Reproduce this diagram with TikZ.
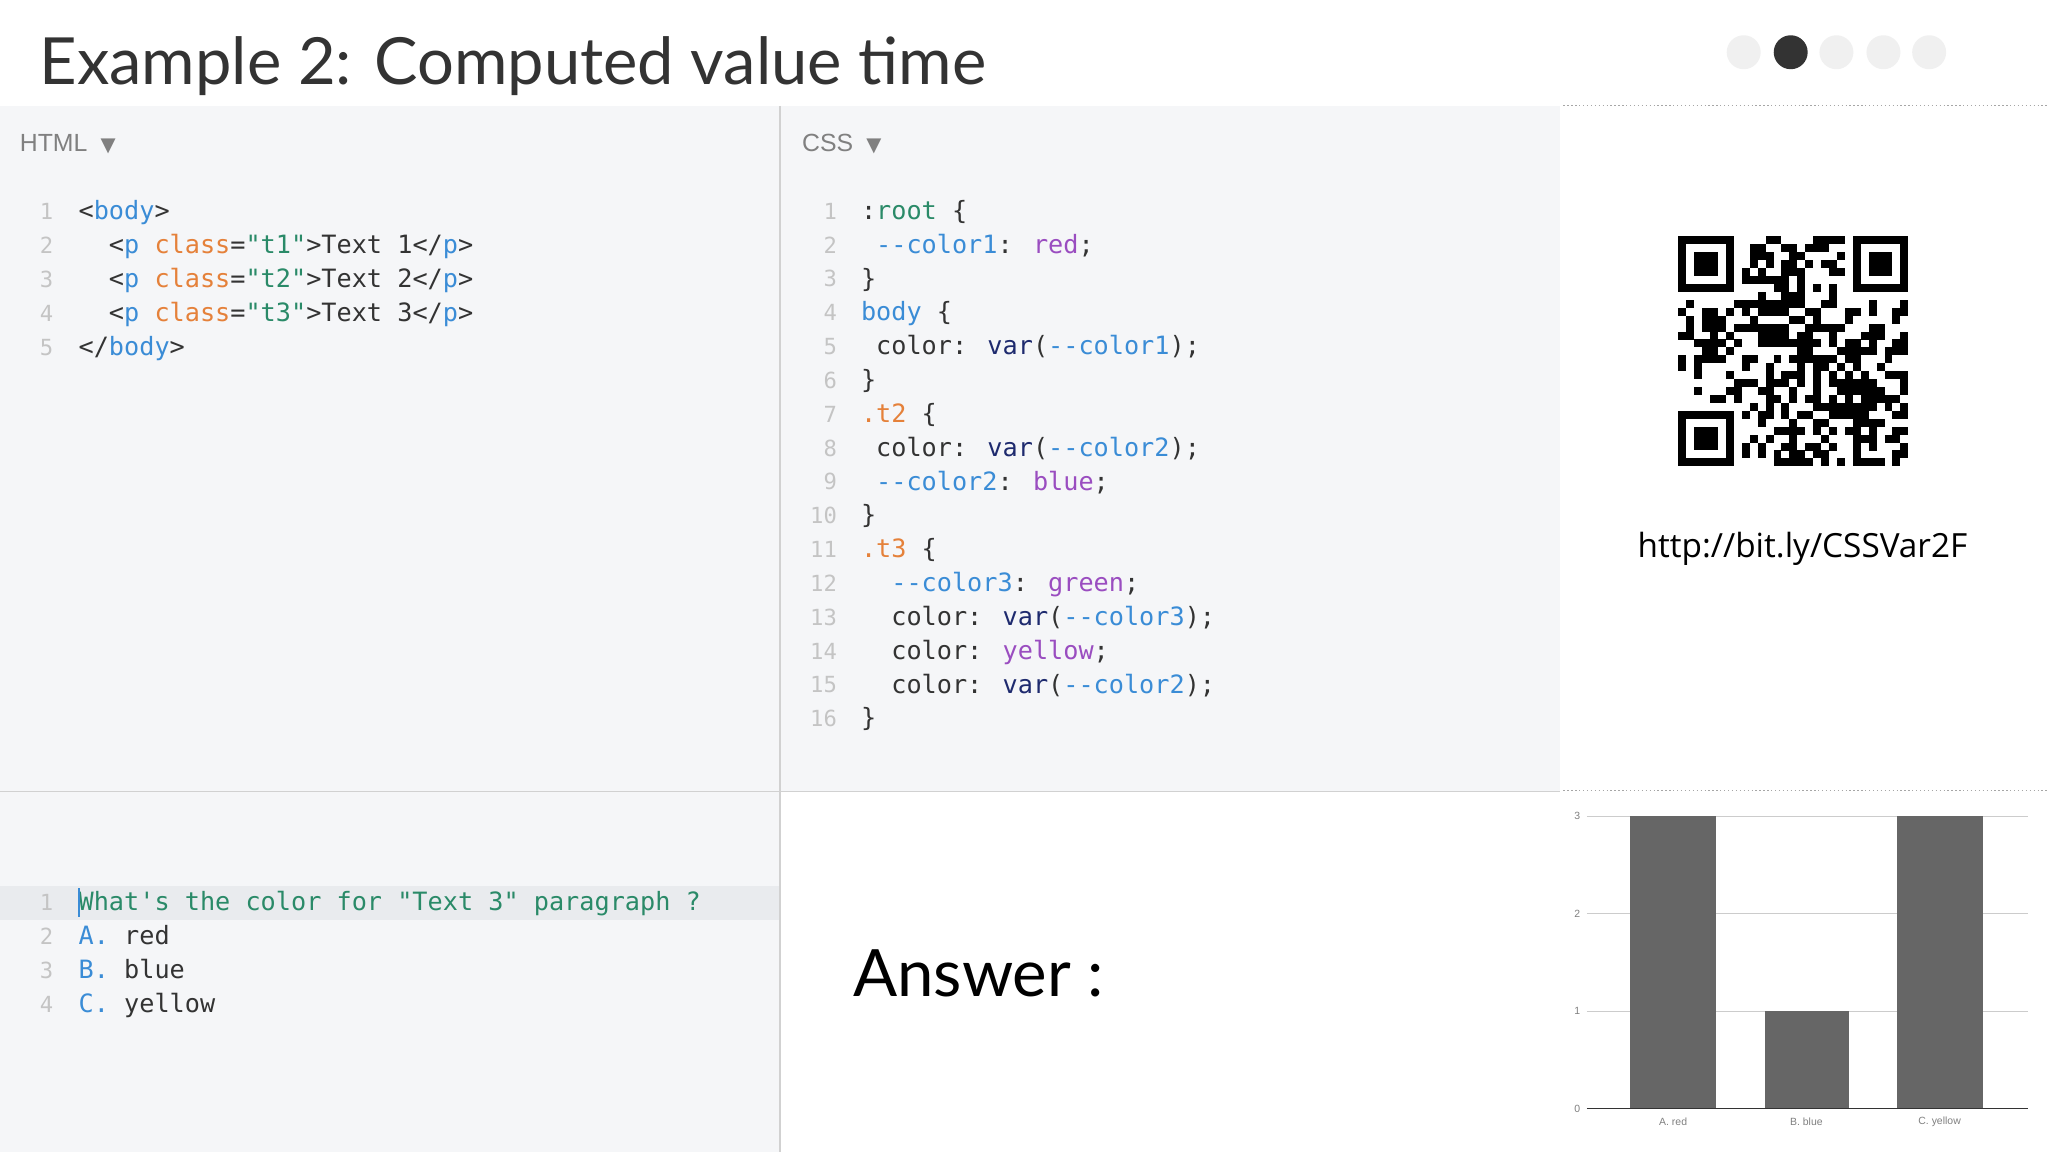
\documentclass[tikz,border=0pt]{standalone}
\usepackage{fontspec}
\setmainfont{Lato}
\newfontfamily\cmono{DejaVu Sans Mono}
\newfontfamily\hsans{Liberation Sans}
\newfontfamily\djsans{DejaVu Sans}
\newfontfamily\osans{Open Sans}
\definecolor{panel}{HTML}{F5F6F8}
\definecolor{hl}{HTML}{E9EBEE}
\definecolor{tg}{HTML}{3A8CD6}
\definecolor{at}{HTML}{E5813A}
\definecolor{st}{HTML}{2A8A68}
\definecolor{tx}{HTML}{333333}
\definecolor{ln}{HTML}{C4C4C4}
\definecolor{vl}{HTML}{9A4DC0}
\definecolor{vr}{HTML}{1E2A6E}
\definecolor{bar}{HTML}{666666}
\newcommand{\cc}[2]{\textcolor{#1}{#2}}
\begin{document}
\begin{tikzpicture}[x=1pt,y=-1pt,
  code/.style={anchor=base west,inner sep=0pt,font=\cmono\fontsize{19.3}{19.3}\selectfont,text=tx},
  lnum/.style={anchor=base east,inner sep=0pt,font=\cmono\fontsize{17}{17}\selectfont,text=ln},
  hdr/.style={anchor=base west,inner sep=0pt,font=\hsans\fontsize{19}{19}\selectfont,text=gray},
  dot/.style={circle,fill=black!6,minimum size=26pt,inner sep=0pt},
  chlab/.style={inner sep=0pt,font=\hsans\fontsize{8}{8}\selectfont,text=gray}]
\useasboundingbox (0,0) rectangle (1568,882);
\fill[white] (0,0) rectangle (1568,882);
% panels
\fill[panel] (0,81) rectangle (1194,606);
\fill[panel] (0,606) rectangle (597,882);
\fill[hl] (0,678) rectangle (597,704);
\draw[black!18,line width=1.2pt] (597,81) -- (597,882);
\draw[black!18,line width=1.2pt] (0,606) -- (1194,606);
\draw[black!35,dotted,line width=1pt] (1197,81) -- (1568,81);
\draw[black!35,dotted,line width=1pt] (1197,605) -- (1568,605);
% title
\node[anchor=base west,inner sep=0pt,font=\fontsize{49.8}{50}\selectfont,text=tx] (title) at (30,65) {Example 2: Computed value time};
% dots
\node[dot] (d1) at (1335,40) {};
\node[dot,fill=black!80] (d2) at (1371,40) {};
\node[dot] (d3) at (1406,40) {};
\node[dot] (d4) at (1442,40) {};
\node[dot] (d5) at (1477,40) {};
% headers
\node[hdr] (hh) at (15,116) {HTML {\djsans\fontsize{15}{15}\selectfont\ ▼}};
\node[hdr] (ch) at (614,116) {CSS {\djsans\fontsize{15}{15}\selectfont\ ▼}};
% HTML code
\foreach \i in {1,...,5} {\node[lnum] (hn\i) at (41,142+26*\i) {\i};}
\node[code] (h1) at (60,168) {<\cc{tg}{body}>};
\node[code] (h2) at (60,194) {\ \ <\cc{tg}{p} \cc{at}{class}=\cc{st}{"t1"}>Text 1</\cc{tg}{p}>};
\node[code] (h3) at (60,220) {\ \ <\cc{tg}{p} \cc{at}{class}=\cc{st}{"t2"}>Text 2</\cc{tg}{p}>};
\node[code] (h4) at (60,246) {\ \ <\cc{tg}{p} \cc{at}{class}=\cc{st}{"t3"}>Text 3</\cc{tg}{p}>};
\node[code] (h5) at (60,272) {</\cc{tg}{body}>};
% CSS code
\foreach \i in {1,...,16} {\node[lnum] (cn\i) at (641,142+25.9*\i) {\i};}
\node[code] (c1) at (659,168) {:\cc{st}{root} \{};
\node[code] (c2) at (659,193.9) {\ \cc{tg}{-{}-color1}: \cc{vl}{red};};
\node[code] (c3) at (659,219.8) {\}};
\node[code] (c4) at (659,245.7) {\cc{tg}{body} \{};
\node[code] (c5) at (659,271.6) {\ color: \cc{vr}{var}(\cc{tg}{-{}-color1});};
\node[code] (c6) at (659,297.5) {\}};
\node[code] (c7) at (659,323.4) {\cc{at}{.t2} \{};
\node[code] (c8) at (659,349.3) {\ color: \cc{vr}{var}(\cc{tg}{-{}-color2});};
\node[code] (c9) at (659,375.2) {\ \cc{tg}{-{}-color2}: \cc{vl}{blue};};
\node[code] (c10) at (659,401.1) {\}};
\node[code] (c11) at (659,427) {\cc{at}{.t3} \{};
\node[code] (c12) at (659,452.9) {\ \ \cc{tg}{-{}-color3}: \cc{vl}{green};};
\node[code] (c13) at (659,478.8) {\ \ color: \cc{vr}{var}(\cc{tg}{-{}-color3});};
\node[code] (c14) at (659,504.7) {\ \ color: \cc{vl}{yellow};};
\node[code] (c15) at (659,530.6) {\ \ color: \cc{vr}{var}(\cc{tg}{-{}-color2});};
\node[code] (c16) at (659,556.5) {\}};
% question
\foreach \i in {1,...,4} {\node[lnum] (qn\i) at (41,671+26*\i) {\i};}
\node[code] (q1) at (60,697) {\cc{st}{What's the color for "Text 3" paragraph ?}};
\draw[tg,line width=1.5pt] (60.5,680) -- (60.5,702);
\node[code] (q2) at (60,723) {\cc{tg}{A.} red};
\node[code] (q3) at (60,749) {\cc{tg}{B.} blue};
\node[code] (q4) at (60,775) {\cc{tg}{C.} yellow};
% answer
\node[anchor=base west,inner sep=0pt,font=\fontsize{50}{50}\selectfont,text=black] (ans) at (653,763) {Answer :};
% QR
\begin{scope}[shift={(1285,181)}]
\pgfmathsetseed{42}
\foreach \r in {0,...,28} {\foreach \c in {0,...,28} {
  \pgfmathsetmacro{\rv}{rnd}
  \ifdim\rv pt<0.5pt \fill[black] (\c*6.07,\r*6.07) rectangle ++(6.1,6.1);\fi }}
\foreach \ox/\oy in {0/0,22/0,0/22} {
  \fill[white] (\ox*6.07-0.1,\oy*6.07-0.1) rectangle ++(7*6.07+0.2,7*6.07+0.2);
  \fill[black] (\ox*6.07,\oy*6.07) rectangle ++(7*6.07,7*6.07);
  \fill[white] (\ox*6.07+6.07,\oy*6.07+6.07) rectangle ++(5*6.07,5*6.07);
  \fill[black] (\ox*6.07+12.14,\oy*6.07+12.14) rectangle ++(3*6.07,3*6.07);}
\fill[white] (7*6.07,0) rectangle ++(6.07,8*6.07);
\fill[white] (0,7*6.07) rectangle ++(8*6.07,6.07);
\fill[white] (21*6.07,0) rectangle ++(6.07,8*6.07);
\fill[white] (21*6.07,7*6.07) rectangle ++(8*6.07,6.07);
\fill[white] (0,21*6.07) rectangle ++(8*6.07,6.07);
\fill[white] (7*6.07,21*6.07) rectangle ++(6.07,8*6.07);
\end{scope}
\node[anchor=base,inner sep=0pt,font=\osans\fontsize{25.5}{25.5}\selectfont,text=black] (url) at (1380,427) {http://bit.ly/CSSVar2F};
% chart
\foreach \v/\y in {1/774,2/699.5,3/625} {\draw[black!20] (1215,\y) -- (1553,\y);
  \node[chlab,anchor=east] (yl\v) at (1210,\y) {\v};}
\node[chlab,anchor=east] (yl0) at (1210,849) {0};
\fill[bar] (1248,625) rectangle (1314,849);
\fill[bar] (1351,774) rectangle (1416,849);
\fill[bar] (1452,625) rectangle (1518,849);
\draw[black!80,line width=0.8pt] (1215,849) -- (1553,849);
\node[chlab] (xa) at (1281,859) {A. red};
\node[chlab] (xb) at (1383,859) {B. blue};
\node[chlab] (xc) at (1485,859) {C. yellow};
\end{tikzpicture}
\end{document}
